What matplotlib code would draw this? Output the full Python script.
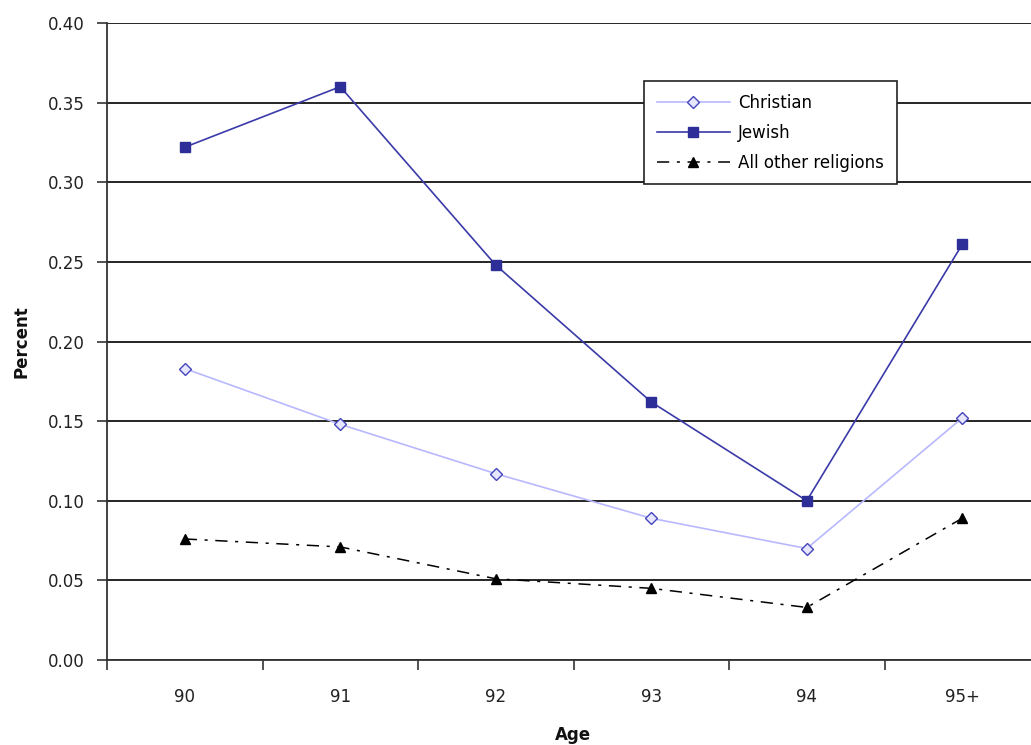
import matplotlib
matplotlib.use("Agg")
import matplotlib.pyplot as plt
from matplotlib.ticker import FixedLocator, MultipleLocator

ages = ["90", "91", "92", "93", "94", "95+"]
christian = [0.183, 0.148, 0.117, 0.089, 0.070, 0.152]
jewish = [0.322, 0.360, 0.248, 0.162, 0.100, 0.261]
other = [0.076, 0.071, 0.051, 0.045, 0.033, 0.089]

plt.rcParams['font.family'] = ['DejaVu Sans']

fig = plt.figure(figsize=(10.31, 7.45), dpi=100)
ax = fig.add_axes([107 / 1031, 1 - 660 / 745, 933 / 1031, 637 / 745])

x = list(range(len(ages)))

ax.plot(x, christian, color="#b8b8ff", lw=1.2, marker="D", ms=6,
        mfc="#e6e6ff", mec="#4444bb", mew=1.0, label="Christian", zorder=4)
ax.plot(x, jewish, color="#3a3aa8", lw=1.2, marker="s", ms=6.5,
        mfc="#2e2e99", mec="#2e2e99", label="Jewish", zorder=4)
ax.plot(x, other, color="black", lw=1.1, linestyle=(0, (8, 5, 2, 5)),
        marker="^", ms=7, mfc="black", mec="black",
        label="All other religions", zorder=4)

ax.set_xlim(-0.5, len(ages) - 0.5)
ax.set_ylim(0, 0.40)
ax.yaxis.set_major_locator(MultipleLocator(0.05))
ax.yaxis.set_major_formatter(plt.FuncFormatter(lambda v, p: f"{v:.2f}"))
ax.grid(axis="y", color="black", lw=1.2, zorder=1)
ax.set_axisbelow(True)

ax.set_xticks(x)
ax.set_xticklabels(ages)
ax.xaxis.set_minor_locator(FixedLocator([i - 0.5 for i in range(len(ages) + 1)]))
ax.tick_params(axis="x", which="major", length=0, pad=20, labelsize=12, labelcolor="#222222")
ax.tick_params(axis="x", which="minor", length=7, width=1.2, color="#333333")
ax.tick_params(axis="y", length=7, width=1.2, color="#333333", pad=9,
               labelsize=12, labelcolor="#222222")

for side in ("top", "right"):
    ax.spines[side].set_visible(False)
for side in ("left", "bottom"):
    ax.spines[side].set_color("#333333")
    ax.spines[side].set_linewidth(1.3)

fig.text(22 / 1031, 1 - 342 / 745, "Percent", rotation=90, ha="center",
         va="center", fontsize=12, fontweight="bold", color="#111111")
fig.text(573 / 1031, 1 - 735 / 745, "Age", ha="center", va="center",
         fontsize=12, fontweight="bold", color="#111111")

leg = ax.legend(loc="upper left", bbox_to_anchor=(644 / 1031, 1 - 81 / 745),
                bbox_transform=fig.transFigure, fontsize=12, frameon=True,
                fancybox=False, framealpha=1, edgecolor="#222222",
                borderpad=0.75, handlelength=4.4, handletextpad=0.5,
                labelspacing=0.72, borderaxespad=0)
leg.get_frame().set_linewidth(1.2)

fig.savefig("out.png", dpi=100)
